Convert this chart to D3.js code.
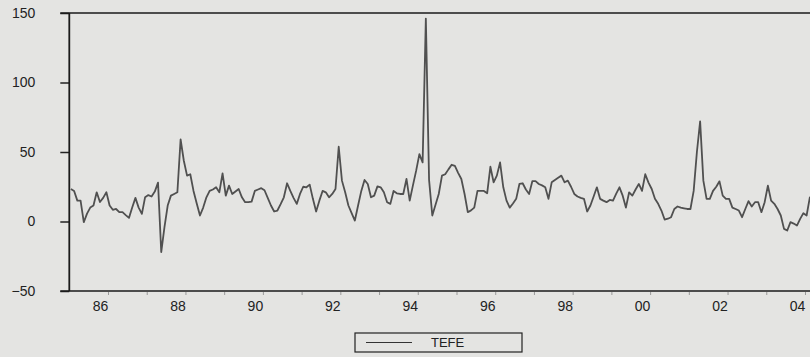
<!DOCTYPE html>
<html>
<head>
<meta charset="utf-8">
<script src="https://cdn.jsdelivr.net/npm/d3@7"></script>
<style>
  body { margin: 0; background: #e4e4e2; }
  svg { display: block; }
  .tick text { font-family: "Liberation Sans", Arial, sans-serif; fill: #222; }
</style>
</head>
<body>
<div id="chart"></div>
<script>
const startYear = 1985;
const tefe = [
  23.4, 22, 15, 15, -0.5, 5.7, 10, 11.5, 21, 14, 17, 21,
  11.5, 8.4, 9, 6.7, 6.7, 4.6, 2.6, 10, 17, 10, 5.5, 17.5,
  19, 18, 21.5, 28, -22, -4, 11.5, 18.6, 19.8, 21, 59, 43.7,
  33, 34, 22, 13, 4.3, 10, 17.4, 22, 23, 24.6, 21, 34.6,
  18.6, 25.8, 19.8, 21.6, 23.4, 17.4, 13.9, 14, 14.3, 22, 23, 24,
  22.5, 17, 11.5, 7.2, 7.9, 12.5, 17.4, 27.5, 22, 17, 12.7, 19.8,
  25, 24.6, 26.5, 16.3, 7.2, 15, 22, 21, 17.4, 19.8, 23.4, 53.8,
  29.4, 21, 11.5, 6, 0.7, 11.5, 22, 29.9, 27, 17.4, 18.6, 25.3,
  24.6, 21, 13.9, 12.7, 22, 20.3, 19.8, 19.8, 30.6, 15, 26, 36.6,
  48.5, 42.5, 146, 30, 4.3, 12, 19.8, 33, 34, 37.5, 40.8, 40,
  35, 30.6, 19.8, 6.7, 8, 10, 22, 22, 22, 20.3, 39.4, 28.2,
  33, 42.5, 24.6, 15, 10, 13, 16.3, 27, 27.5, 23, 19.8, 29,
  29, 27, 26, 24.6, 16.3, 28.2, 29.9, 31.5, 33, 28.2, 29.4, 25,
  19.8, 18, 17, 16.3, 7.2, 11.5, 18, 24.6, 16.3, 15, 13.9, 15.5,
  15, 20, 24.6, 18.6, 10, 21, 18.6, 23, 27, 22, 34, 28,
  23.4, 16.3, 12.7, 7.9, 1.4, 2, 3.1, 9, 10.8, 10, 9.5, 9,
  9, 22, 50, 72, 29.4, 16.3, 16.3, 22, 25, 28.9, 18.6, 16.3,
  16.3, 10, 9, 7.9, 3.1, 9, 14.6, 10.8, 13.9, 13.9, 6.7, 13.9,
  25.8, 15, 12.7, 9, 4.3, -5.3, -6.5, -0.5, -1.5, -2.9, 1.9, 6,
  4.3, 17.4, 7.9
];
const yearTicks = d3.range(1986, 2005);
const yTicks = [-50, 0, 50, 100, 150];
const legendLabel = "TEFE";

const width = 810, height = 357;
const plotLeft = 69.3, plotTop = 13, plotBottom = 291;

const svg = d3.select("#chart").append("svg")
  .attr("width", width)
  .attr("height", height);

svg.append("rect")
   .attr("width", width)
   .attr("height", height)
   .attr("fill", "#e4e4e2");

const x = d3.scaleLinear()
  .domain([1986, 2004])
  .range([108, 805]);

const y = d3.scaleLinear()
  .domain([-50, 150])
  .range([plotBottom, plotTop]);

const obs = tefe.map((v, i) => ({ t: startYear + (i + 0.5) / 12, v: v }));

// bottom axis: year ticks, labels on even years
const xAxis = d3.axisBottom(x)
  .tickValues(yearTicks)
  .tickSize(3)
  .tickPadding(6)
  .tickFormat(d => d % 2 === 0 ? String(d).slice(2) : "");

const gx = svg.append("g")
  .attr("transform", `translate(0,${plotBottom + 1})`)
  .call(xAxis);
gx.select(".domain").remove();
gx.selectAll(".tick line").attr("stroke", "#999");
gx.selectAll(".tick text")
  .attr("dx", -8)
  .style("font-size", "14px");

// left axis
const yAxis = d3.axisLeft(y)
  .tickValues(yTicks)
  .tickSize(9)
  .tickPadding(25);

const gy = svg.append("g")
  .attr("transform", `translate(${plotLeft},0)`)
  .call(yAxis);
gy.select(".domain").remove();
gy.selectAll(".tick line").attr("stroke", "#222").attr("stroke-width", 1.5);
gy.selectAll(".tick text").style("font-size", "14px");

// frame
svg.append("line")
   .attr("x1", plotLeft).attr("x2", plotLeft)
   .attr("y1", plotTop).attr("y2", plotBottom)
   .attr("stroke", "#1a1a1a").attr("stroke-width", 1.8);
svg.append("line")
   .attr("x1", plotLeft - 9).attr("x2", width)
   .attr("y1", plotTop).attr("y2", plotTop)
   .attr("stroke", "#1a1a1a").attr("stroke-width", 1.5);
svg.append("line")
   .attr("x1", plotLeft - 9).attr("x2", width)
   .attr("y1", plotBottom).attr("y2", plotBottom)
   .attr("stroke", "#1a1a1a").attr("stroke-width", 1.5);

// series
const line = d3.line()
  .x(d => x(d.t))
  .y(d => y(d.v));

svg.append("path")
   .datum(obs)
   .attr("d", line)
   .attr("fill", "none")
   .attr("stroke", "#505050")
   .attr("stroke-width", 1.8)
   .attr("stroke-linejoin", "round");

// legend
const lg = svg.append("g").attr("transform", "translate(355,333)");
lg.append("rect")
  .attr("width", 167).attr("height", 19)
  .attr("fill", "none")
  .attr("stroke", "#222").attr("stroke-width", 1.2);
lg.append("line")
  .attr("x1", 11).attr("x2", 57)
  .attr("y1", 9.5).attr("y2", 9.5)
  .attr("stroke", "#333").attr("stroke-width", 1.2);
lg.append("text")
  .attr("x", 76).attr("y", 14)
  .style("font-family", "Liberation Sans, Arial, sans-serif")
  .style("font-size", "13px")
  .attr("fill", "#222")
  .text(legendLabel);
</script>
</body>
</html>
